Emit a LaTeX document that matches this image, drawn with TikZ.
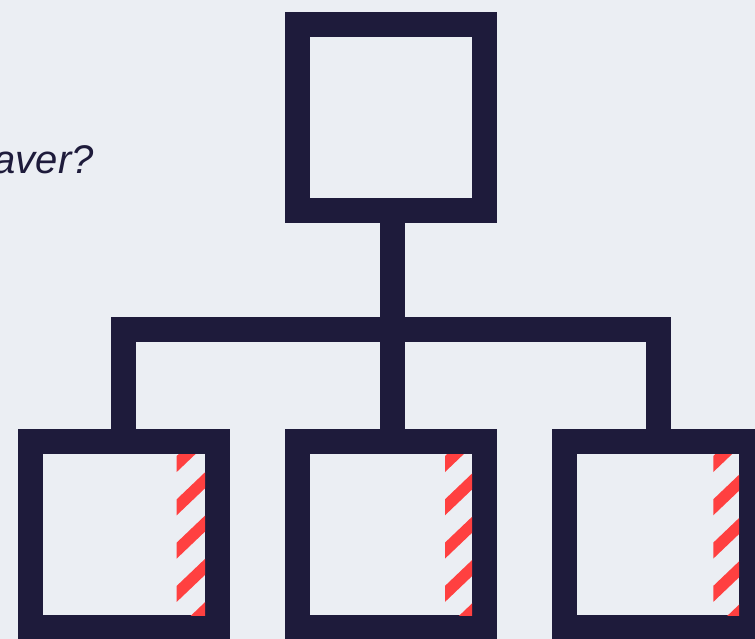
\documentclass[tikz,border=0pt]{standalone}
\usepackage{fontspec}
\setmainfont{Liberation Sans}
\definecolor{inkdark}{HTML}{1E1B3B}
\definecolor{pagebg}{HTML}{EBEEF3}
\definecolor{stripered}{HTML}{FF4040}
\begin{document}
\begin{tikzpicture}[
    x=1pt, y=-1pt,
    orgbox/.style={
        draw=inkdark,
        line width=25pt,
        inner sep=0pt,
        outer sep=0pt,
        minimum width=187pt,
        minimum height=186pt
    },
    link/.style={draw=inkdark, line width=25pt},
    stripe/.style={fill=stripered}
]

    % Page
    \path[use as bounding box, fill=pagebg] (0,0) rectangle (755,639);
    \clip (0,0) rectangle (755,639);

    % Boxes
    \node[orgbox] (topbox) at (391,117.5) {};
    \node[orgbox] (leftbox) at (124,534.5) {};
    \node[orgbox] (midbox) at (391,534.5) {};
    \node[orgbox] (rightbox) at (658,534.5) {};

    % Connectors
    \coordinate (busleft) at (123.5,329.5);
    \coordinate (busmid) at (392.5,329.5);
    \coordinate (busright) at (658.5,329.5);

    \draw[link] (busmid |- topbox.south) -- (busmid);
    \draw[link] (busleft |- leftbox.north) -- (busleft) -- (busright) -- (busright |- rightbox.north);
    \draw[link] (busmid) -- (busmid |- midbox.north);

    % Hatching inside the lower boxes
    \foreach \boxname/\sx in {leftbox/52.7,midbox/54,rightbox/55.3} {
        \begin{scope}[shift={(\boxname.center)}]
            \clip (\sx,-80.5) rectangle (81,80.5);
            \foreach \k in {0,...,4} {
                \fill[stripe] (\sx,-78.5+43.3*\k) -- (\sx+28.3,-105.5+43.3*\k)
                    -- (\sx+28.3,-89.5+43.3*\k) -- (\sx,-62.5+43.3*\k) -- cycle;
            }
        \end{scope}
    }

    % Cut-off text
    \node[anchor=base east, inner sep=0pt, text=inkdark, font=\fontsize{40}{48}\selectfont\itshape] (question) at (94,174) {aver?};

\end{tikzpicture}
\end{document}
